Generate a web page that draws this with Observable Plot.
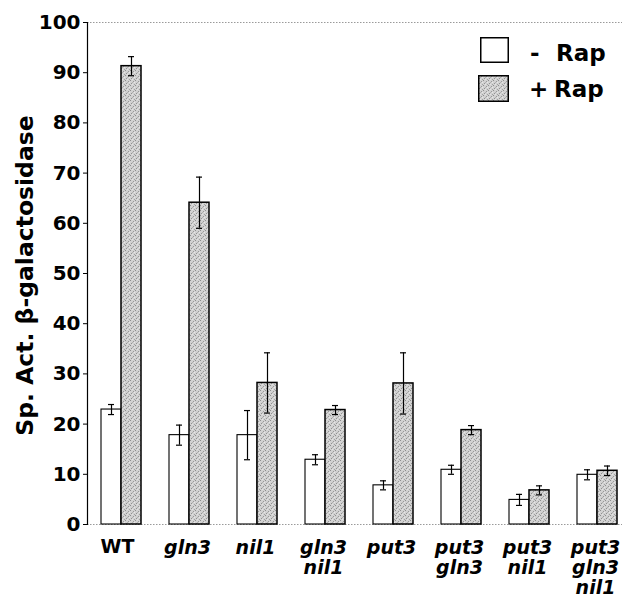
<!DOCTYPE html>
<html>
<head>
<meta charset="utf-8">
<script src="https://cdn.jsdelivr.net/npm/d3@7"></script>
<script src="https://cdn.jsdelivr.net/npm/@observablehq/plot@0.6"></script>
<style>
  html, body { margin: 0; padding: 0; background: #fff; }
  #wrap { position: relative; width: 624px; height: 598px; font-family: "DejaVu Sans", sans-serif; }
  .lg { position: absolute; font-weight: bold; font-size: 23px; line-height: 23px; color: #000; white-space: pre; }
</style>
</head>
<body>
<svg width="0" height="0" style="position:absolute">
  <defs>
    <pattern id="stipple" width="5" height="5" patternUnits="userSpaceOnUse">
      <rect width="5" height="5" fill="#d2d2d2"></rect>
      <rect x="0" y="0" width="1" height="1" fill="#8e8e8e"></rect>
      <rect x="3" y="1" width="1" height="1" fill="#999"></rect>
      <rect x="1" y="3" width="1" height="1" fill="#929292"></rect>
      <rect x="4" y="4" width="1" height="1" fill="#a2a2a2"></rect>
      <rect x="2" y="2" width="1" height="1" fill="#b0b0b0"></rect>
      <rect x="4" y="2" width="1" height="1" fill="#e8e8e8"></rect>
      <rect x="2" y="4" width="1" height="1" fill="#e4e4e4"></rect>
    </pattern>
  </defs>
</svg>
<div id="wrap"></div>
<script>
const groups = ["WT", "gln3", "nil1", "gln3 nil1", "put3", "put3 gln3", "put3 nil1", "put3 gln3 nil1"];
const tickLabels = ["WT", "gln3", "nil1", "gln3\nnil1", "put3", "put3\ngln3", "put3\nnil1", "put3\ngln3\nnil1"];
const minusRap = [22.9, 17.8, 17.8, 12.9, 7.8, 10.9, 4.9, 9.9];
const minusErr = [1.0, 2.0, 4.9, 1.0, 0.9, 0.9, 1.1, 1.0];
const plusRap = [91.3, 64.1, 28.2, 22.8, 28.1, 18.8, 6.8, 10.7];
const plusErr = [1.9, 5.1, 6.0, 0.9, 6.1, 0.9, 0.9, 0.95];
const yTicks = [0, 10, 20, 30, 40, 50, 60, 70, 80, 90, 100];
const yTitle = "Sp. Act. β-galactosidase";

const minusRows = groups.map((g, i) => ({g, v: minusRap[i], lo: minusRap[i] - minusErr[i], hi: minusRap[i] + minusErr[i]}));
const plusRows = groups.map((g, i) => ({g, v: plusRap[i], lo: plusRap[i] - plusErr[i], hi: plusRap[i] + plusErr[i]}));
const labelOf = new Map(groups.map((g, i) => [g, tickLabels[i]]));

const chart = Plot.plot({
  width: 624,
  height: 598,
  marginTop: 22,
  marginBottom: 74,
  marginLeft: 87,
  marginRight: 2,
  style: {fontFamily: "DejaVu Sans, sans-serif", background: "#fff", color: "#000"},
  x: {type: "band", domain: groups, range: [87, 630], paddingInner: 0.4118, paddingOuter: 0.198},
  y: {domain: [0, 100]},
  marks: [
    Plot.ruleY([0, 100], {stroke: "#9a9a9a", strokeDasharray: "1.5,1.5", strokeWidth: 1}),
    Plot.barY(minusRows, {x: "g", y: "v", fill: "#fff", stroke: "#000", strokeWidth: 1.1, insetRight: 20}),
    Plot.barY(plusRows, {x: "g", y: "v", fill: "url(#stipple)", stroke: "#000", strokeWidth: 1.5, insetLeft: 20}),
    Plot.ruleX(minusRows, {x: "g", y1: "lo", y2: "hi", dx: -10, stroke: "#000", strokeWidth: 1.2}),
    Plot.ruleX(plusRows, {x: "g", y1: "lo", y2: "hi", dx: 10, stroke: "#000", strokeWidth: 1.2}),
    Plot.tickY(minusRows, {x: "g", y: "lo", insetLeft: 7, insetRight: 27, stroke: "#000", strokeWidth: 1.2}),
    Plot.tickY(minusRows, {x: "g", y: "hi", insetLeft: 7, insetRight: 27, stroke: "#000", strokeWidth: 1.2}),
    Plot.tickY(plusRows, {x: "g", y: "lo", insetLeft: 27, insetRight: 7, stroke: "#000", strokeWidth: 1.2}),
    Plot.tickY(plusRows, {x: "g", y: "hi", insetLeft: 27, insetRight: 7, stroke: "#000", strokeWidth: 1.2}),
    Plot.frame({anchor: "left", stroke: "#000", strokeWidth: 1.2}),
    Plot.axisY(yTicks, {tickSize: 4, tickPadding: 3, fontSize: 20, fontWeight: "bold", label: null}),
    Plot.axisX(["WT"], {tickSize: 0, tickPadding: 15, fontSize: 19, fontWeight: "bold", dx: -4, label: null}),
    Plot.axisX(groups.filter(g => g !== "WT"), {tickSize: 0, tickPadding: 15, fontSize: 19, fontWeight: "bold", fontStyle: "italic", lineHeight: 1.05, dx: -2, tickFormat: g => labelOf.get(g), label: null}),
    Plot.text([yTitle], {frameAnchor: "left", textAnchor: "middle", rotate: -90, dx: -62, dy: 2, fontSize: 23.5, fontWeight: "bold"})
  ]
});

const wrap = document.getElementById("wrap");
wrap.appendChild(chart);

function addBox(left, top, w, h, fill) {
  const ns = "http://www.w3.org/2000/svg";
  const s = document.createElementNS(ns, "svg");
  s.setAttribute("width", w); s.setAttribute("height", h);
  s.style.position = "absolute"; s.style.left = left + "px"; s.style.top = top + "px";
  const r = document.createElementNS(ns, "rect");
  r.setAttribute("x", 0.75); r.setAttribute("y", 0.75);
  r.setAttribute("width", w - 1.5); r.setAttribute("height", h - 1.5);
  r.setAttribute("fill", fill); r.setAttribute("stroke", "#000"); r.setAttribute("stroke-width", 1.5);
  s.appendChild(r);
  wrap.appendChild(s);
}
function addText(left, top, txt) {
  const d = document.createElement("div");
  d.className = "lg"; d.style.left = left + "px"; d.style.top = top + "px";
  d.textContent = txt;
  wrap.appendChild(d);
}
addBox(480, 37, 29, 26, "#fff");
addBox(478, 75, 31, 27, "url(#stipple)");
addText(530, 42, "-");
addText(556, 42, "Rap");
addText(529, 78, "+");
addText(554, 78, "Rap");
</script>
</body>
</html>
